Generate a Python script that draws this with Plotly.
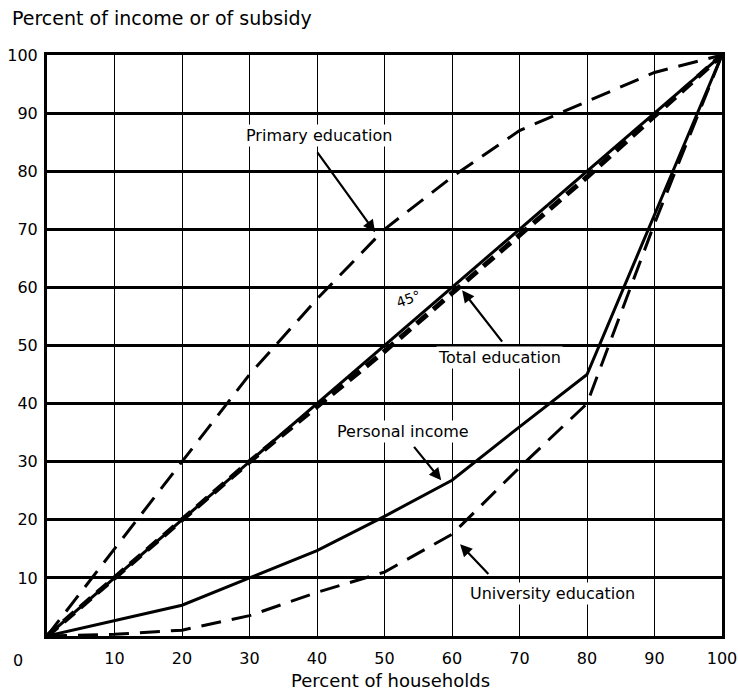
import plotly.graph_objects as go

households = [0, 10, 20, 30, 40, 50, 60, 70, 80, 90, 100]
equality = [0, 10, 20, 30, 40, 50, 60, 70, 80, 90, 100]
primary_edu = [0, 15, 30, 45, 58, 70, 79, 87, 92, 97, 100]
total_edu = [0, 10, 20, 30, 39.5, 49, 59, 69, 79, 89.5, 100]
personal_income = [0, 2.6, 5.3, 10, 14.7, 20.6, 26.8, 36, 45, 72.5, 100]
university_edu = [0, 0.3, 1, 3.5, 7.5, 11, 17.5, 29, 40, 71, 100]

tick_vals = [10, 20, 30, 40, 50, 60, 70, 80, 90, 100]
tick_text = ["10", "20", "30", "40", "50", "60", "70", "80", "90", "100"]

FONT = "DejaVu Sans"

# plot area in page pixels (page body margin removed below)
L, R, T, B = 47, 722, 55, 636
W, H = 738, 690
PW, PH = R - L, B - T


def px(x):
    return (x - L) / PW


def py(y):
    return (B - y) / PH


fig = go.Figure()
fig.add_trace(go.Scatter(x=households, y=total_edu, mode="lines",
                         line=dict(color="black", width=5, dash="14px,8px"),
                         name="Total education"))
fig.add_trace(go.Scatter(x=households, y=equality, mode="lines",
                         line=dict(color="black", width=3), name="45°"))
fig.add_trace(go.Scatter(x=households, y=primary_edu, mode="lines",
                         line=dict(color="black", width=3, dash="20px,11px"),
                         name="Primary education"))
fig.add_trace(go.Scatter(x=households, y=personal_income, mode="lines",
                         line=dict(color="black", width=3), name="Personal income"))
fig.add_trace(go.Scatter(x=households, y=university_edu, mode="lines",
                         line=dict(color="black", width=3, dash="20px,11px"),
                         name="University education"))

labels = [
    ("Primary education", 40.3, 86.2, 39.9, 83.5, 48.6, 69.5),
    ("Total education", 67.1, 47.9, 67.6, 50.4, 61.5, 59.5),
    ("Personal income", 52.7, 35.2, 54.2, 32.8, 58.4, 26.8),
    ("University education", 74.9, 7.3, 65.6, 10.4, 61.2, 15.8),
]
annotations = []
for text, tx, ty, ax, ay, hx, hy in labels:
    annotations.append(dict(x=tx, y=ty, xref="x", yref="y", text=text, showarrow=False,
                            font=dict(family=FONT, size=16, color="black"),
                            bgcolor="white", borderpad=1))
    annotations.append(dict(x=hx, y=hy, ax=ax, ay=ay, xref="x", yref="y", axref="x", ayref="y",
                            text="", showarrow=True, arrowhead=2, arrowsize=1.1,
                            arrowwidth=2.2, arrowcolor="black"))
annotations.append(dict(x=53.5, y=58, xref="x", yref="y", text="45°", showarrow=False,
                        font=dict(family=FONT, size=14, color="black"), textangle=-20))
annotations.append(dict(x=px(10), y=py(18), xref="paper", yref="paper", xanchor="left", yanchor="middle",
                        text="Percent of income or of subsidy", showarrow=False,
                        font=dict(family=FONT, size=19, color="black")))
annotations.append(dict(x=px(390), y=py(680), xref="paper", yref="paper", xanchor="center", yanchor="middle",
                        text="Percent of households", showarrow=False,
                        font=dict(family=FONT, size=18, color="black")))
annotations.append(dict(x=px(18), y=py(661), xref="paper", yref="paper", xanchor="center", yanchor="middle",
                        text="0", showarrow=False,
                        font=dict(family=FONT, size=16, color="black")))

fig.update_layout(
    width=W, height=H,
    margin=dict(l=L, r=W - R, t=T, b=H - B),
    paper_bgcolor="white", plot_bgcolor="white",
    showlegend=False,
    annotations=annotations,
    font=dict(family=FONT, size=16, color="black"),
)
fig.update_xaxes(range=[0, 100], tickvals=tick_vals, ticktext=tick_text, automargin=False,
                 showgrid=True, gridcolor="black", gridwidth=1,
                 showline=True, linecolor="black", linewidth=3, mirror=True,
                 ticks="outside", ticklen=6, tickcolor="rgba(0,0,0,0)",
                 ticklabeloverflow="allow",
                 zeroline=False, tickfont=dict(family=FONT, size=16))
fig.update_yaxes(range=[0, 100], tickvals=tick_vals, ticktext=tick_text, automargin=False,
                 showgrid=True, gridcolor="black", gridwidth=2.5,
                 showline=True, linecolor="black", linewidth=3, mirror=True,
                 ticks="outside", ticklen=3, tickcolor="rgba(0,0,0,0)",
                 ticklabeloverflow="allow",
                 zeroline=False, tickfont=dict(family=FONT, size=16))

fig.write_html("out.html", config={"displayModeBar": False},
               post_script="document.body.style.margin='0';")
